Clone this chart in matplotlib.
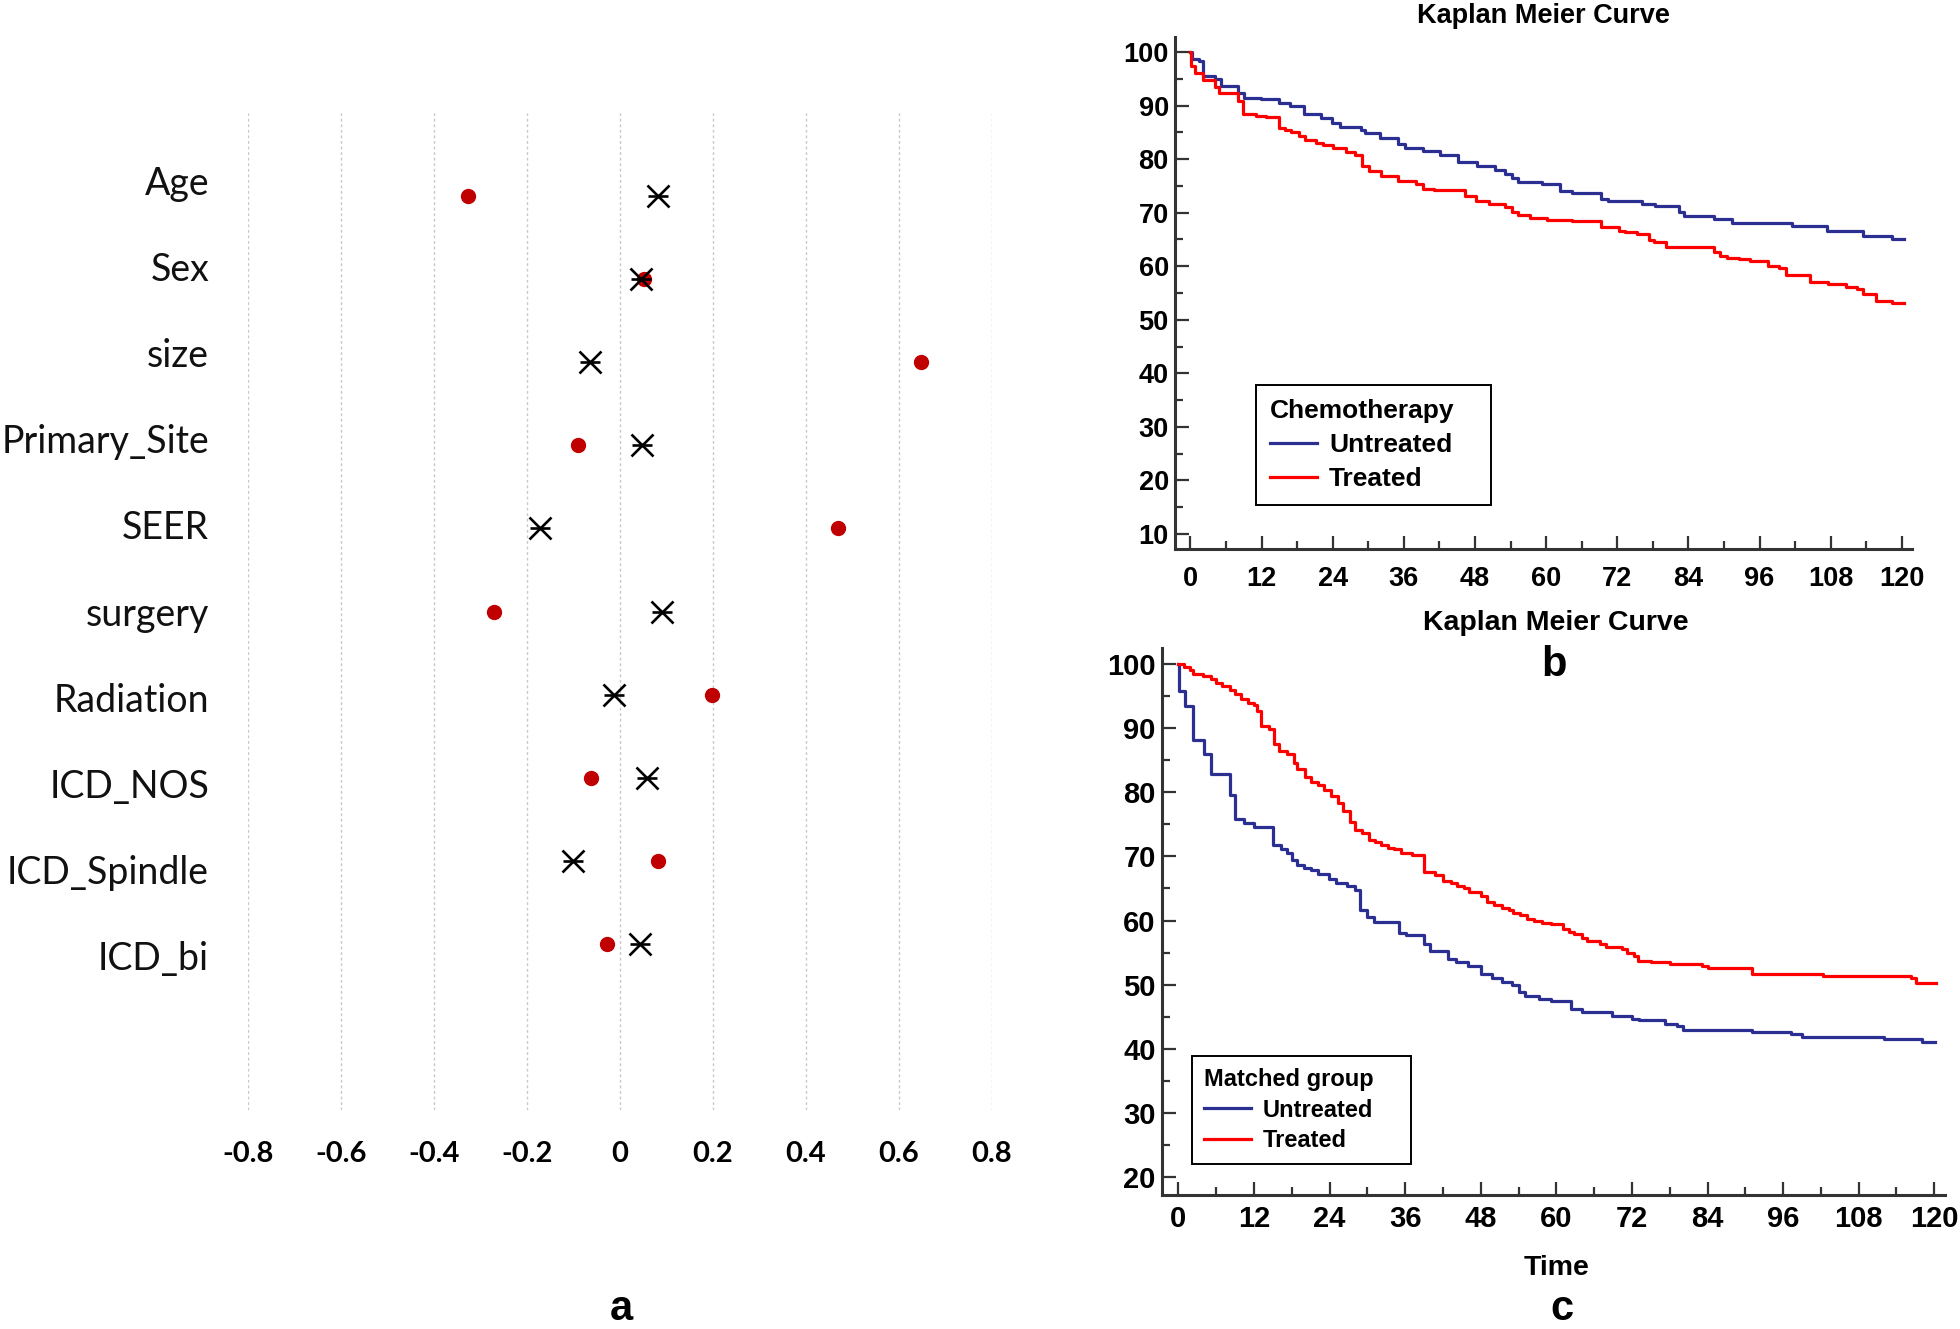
import matplotlib.pyplot as plt
import numpy as np
from matplotlib.ticker import MultipleLocator

# panel a: standardized differences before (red dots) and after (crosses) matching
variables = ["Age", "Sex", "size", "Primary_Site", "SEER", "surgery",
             "Radiation", "ICD_NOS", "ICD_Spindle", "ICD_bi"]
before_match = [-0.327, 0.052, 0.648, -0.090, 0.469, -0.271, 0.197, -0.063, 0.081, -0.029]
after_match = [0.081, 0.045, -0.064, 0.048, -0.173, 0.091, -0.013, 0.059, -0.101, 0.042]
diff_ticks = [-0.8, -0.6, -0.4, -0.2, 0, 0.2, 0.4, 0.6, 0.8]
diff_tick_labels = ["-0.8", "-0.6", "-0.4", "-0.2", "0", "0.2", "0.4", "0.6", "0.8"]

# panel b: Kaplan Meier, chemotherapy (all patients)
chemo_untreated_t = [0, 0.2, 1.4, 2.2, 4.1, 5.2, 8.1, 9.0, 11.9, 14.9, 16.8, 19.1, 22.1, 23.8, 25.2,
                     28.8, 29.4, 31.9, 35.0, 36.2, 39.3, 42.1, 45.2, 48.3, 51.4, 53.1, 54.2, 55.3,
                     59.3, 62.4, 64.3, 69.2, 70.4, 76.2, 78.4, 82.4, 83.3, 88.3, 91.3, 101.4, 107.4,
                     113.4, 118.4, 120.4]
chemo_untreated_s = [100, 98.6, 98.3, 95.5, 94.9, 93.6, 92.4, 91.5, 91.3, 90.5, 89.9, 88.4, 87.6,
                     86.8, 86.0, 85.4, 84.8, 84.0, 82.9, 82.0, 81.5, 80.7, 79.5, 78.8, 78.0, 77.3,
                     76.5, 75.7, 75.3, 74.0, 73.6, 72.6, 72.1, 71.7, 71.2, 70.2, 69.4, 68.8, 68.1,
                     67.6, 66.6, 65.7, 65.1, 65.1]
chemo_treated_t = [0, 0.1, 0.8, 2.1, 4.1, 4.9, 8.0, 8.8, 11.1, 12.7, 14.9, 15.9, 17.0, 18.3, 19.4,
                   21.2, 22.4, 24.1, 26.3, 27.7, 29.0, 30.1, 32.1, 35.0, 38.1, 39.3, 41.0, 46.3,
                   48.2, 50.3, 53.1, 54.2, 55.3, 57.3, 60.1, 64.3, 69.2, 72.2, 73.3, 75.3, 77.3,
                   78.2, 80.2, 88.3, 89.4, 90.5, 92.5, 94.4, 97.4, 99.3, 100.5, 104.5, 107.5,
                   110.5, 112.5, 113.4, 115.6, 118.4, 120.4]
chemo_treated_s = [100, 97.4, 96.1, 94.8, 93.4, 92.4, 90.9, 88.5, 88.0, 87.8, 85.9, 85.5, 85.0,
                   84.3, 83.5, 83.1, 82.6, 82.1, 81.3, 80.7, 78.7, 77.7, 76.9, 75.9, 75.3, 74.5,
                   74.2, 73.2, 72.2, 71.7, 71.0, 70.1, 69.5, 69.0, 68.7, 68.5, 67.4, 66.6, 66.3,
                   66.0, 64.9, 64.6, 63.6, 62.6, 62.0, 61.6, 61.3, 60.9, 60.1, 59.6, 58.3, 57.1,
                   56.6, 56.2, 55.7, 54.8, 53.5, 53.2, 53.2]

# panel c: Kaplan Meier, matched group
matched_untreated_t = [0, 0.1, 1.1, 2.3, 4.1, 5.1, 8.2, 9.0, 10.4, 12.0, 15.1, 16.3, 17.3, 18.1,
                       18.9, 20.0, 21.1, 22.1, 23.9, 25.0, 26.8, 28.0, 28.9, 30.0, 31.0, 35.0,
                       36.2, 39.0, 40.0, 42.8, 44.0, 46.0, 48.1, 49.8, 51.4, 53.0, 54.0, 55.1,
                       57.2, 59.1, 62.3, 64.0, 68.9, 72.0, 73.1, 77.2, 79.2, 80.1, 91.1, 97.2,
                       99.0, 112.0, 118.0, 120.1]
matched_untreated_s = [100, 95.8, 93.5, 88.1, 85.9, 82.9, 79.6, 75.8, 75.2, 74.6, 71.8, 71.1,
                       70.5, 69.4, 68.7, 68.2, 67.9, 67.3, 66.4, 65.8, 65.4, 64.8, 61.6, 60.5,
                       59.8, 58.1, 57.7, 56.3, 55.2, 54.0, 53.6, 52.9, 51.6, 51.0, 50.4, 49.9,
                       48.9, 48.3, 47.7, 47.5, 46.2, 45.8, 45.1, 44.7, 44.5, 43.8, 43.5, 42.9,
                       42.6, 42.3, 41.8, 41.5, 41.1, 41.1]
matched_treated_t = [0, 0.95, 1.9, 2.4, 3.9, 5.1, 6.0, 6.9, 8.2, 9.0, 9.9, 11.0, 12.0, 12.5, 13.1,
                     14.4, 15.2, 16.0, 17.3, 18.3, 18.9, 20.1, 21.1, 22.1, 23.1, 24.2, 25.3, 26.2,
                     27.3, 28.1, 29.2, 30.3, 31.2, 32.1, 33.2, 34.2, 35.3, 37.1, 39.0, 40.8, 42.0,
                     43.2, 44.3, 45.3, 46.1, 48.0, 49.0, 50.1, 51.4, 52.5, 53.2, 54.3, 55.4, 56.4,
                     57.7, 59.1, 61.0, 62.0, 62.8, 64.0, 64.9, 67.0, 67.9, 70.5, 71.2, 72.3, 73.0,
                     75.0, 78.1, 83.2, 84.0, 91.1, 102.3, 116.3, 117.1, 120.2]
matched_treated_s = [100, 99.6, 99.1, 98.5, 98.1, 97.7, 97.0, 96.5, 95.9, 95.3, 94.6, 94.0, 93.6,
                     92.7, 90.3, 89.8, 87.6, 86.4, 85.9, 84.6, 83.6, 82.4, 81.6, 81.2, 80.3, 79.4,
                     78.3, 77.1, 75.4, 74.1, 73.6, 72.6, 72.3, 71.8, 71.3, 71.1, 70.6, 70.2, 67.6,
                     67.1, 66.2, 65.8, 65.4, 65.0, 64.5, 63.8, 62.9, 62.4, 62.0, 61.6, 61.2, 60.8,
                     60.3, 59.9, 59.6, 59.4, 58.7, 58.2, 57.9, 57.2, 56.8, 56.3, 55.8, 55.5, 54.9,
                     54.4, 53.7, 53.5, 53.2, 52.9, 52.6, 51.7, 51.3, 51.0, 50.3, 50.3]

BLUE = "#2b2f91"
RED = "#ff0000"

plt.rcParams["font.family"] = ["Liberation Sans", "DejaVu Sans"]

W, H = 1960, 1329
fig = plt.figure(figsize=(W / 100, H / 100), dpi=100)


def px_axes(left, top, right, bottom):
    return fig.add_axes([left / W, 1 - bottom / H, (right - left) / W, (bottom - top) / H])


# ---- panel a ----
ax = px_axes(248, 113, 992, 1110)
ypos = np.arange(len(variables))
ax.plot(before_match, ypos, "o", color="#c00000", markersize=10, zorder=3, clip_on=False)
ax.plot(after_match, ypos, "x", color="black", markersize=16.5, markeredgewidth=1.9, zorder=4)
ax.plot(after_match, ypos, "_", color="black", markersize=14, markeredgewidth=1.9, zorder=4)
ax.set_xlim(-0.8, 0.8)
ax.set_ylim(11, -1)
ax.set_xticks(diff_ticks)
ax.set_xticklabels(diff_tick_labels, fontfamily=["Lato", "DejaVu Sans"], fontweight="bold", fontsize=21)
# the category labels sit on a slightly wider spacing than the markers
ax.set_yticks(ypos * 1.037 - 0.19)
ax.set_yticklabels(variables, fontfamily=["Lato", "DejaVu Sans"], fontsize=27, color="#111111")
ax.tick_params(axis="both", length=0)
ax.tick_params(axis="x", pad=22)
ax.tick_params(axis="y", pad=28)
ax.grid(axis="x", color="#c8c8c8", linestyle=(0, (2, 2)), linewidth=1)
for s in ax.spines.values():
    s.set_visible(False)
fig.text(621 / W, 1 - 1320 / H, "a", ha="center", va="baseline", fontsize=30, fontweight="bold")


def km_panel(ax, tu, su, tt, st, ymin, ylim, legend_title, legend_box, fs_tick, fs_leg, xpad,
             spacing, hlen):
    ax.step(tu, su, where="post", color=BLUE, linewidth=2.3, label="Untreated")
    ax.step(tt, st, where="post", color=RED, linewidth=2.3, label="Treated")
    ax.set_xlim(-2.6, 121.7)
    ax.set_ylim(*ylim)
    ax.xaxis.set_major_locator(MultipleLocator(12))
    ax.xaxis.set_minor_locator(MultipleLocator(6))
    ax.yaxis.set_minor_locator(MultipleLocator(5))
    ax.set_yticks(np.arange(ymin, 101, 10))
    for side in ["top", "right"]:
        ax.spines[side].set_visible(False)
    for side in ["left", "bottom"]:
        ax.spines[side].set_linewidth(2.2)
        ax.spines[side].set_color("#333333")
    ax.tick_params(which="both", direction="in", width=1.6, color="#333333")
    ax.tick_params(axis="x", which="major", length=9.5, pad=xpad)
    ax.tick_params(axis="x", which="minor", length=5.5)
    ax.tick_params(axis="y", which="major", length=10, pad=4.5)
    ax.tick_params(axis="y", which="minor", length=5.5)
    for lab in ax.get_xticklabels() + ax.get_yticklabels():
        lab.set_fontweight("bold")
        lab.set_fontsize(fs_tick)
    leg = ax.legend(title=legend_title, loc="upper left", bbox_to_anchor=legend_box,
                    mode="expand", borderaxespad=0, alignment="left", frameon=True,
                    fancybox=False, edgecolor="black", framealpha=1, handlelength=hlen,
                    handletextpad=0.47, labelspacing=spacing, borderpad=0.52,
                    prop={"weight": "bold", "size": fs_leg},
                    title_fontproperties={"weight": "bold", "size": fs_leg})
    leg.get_frame().set_linewidth(1.4)
    return leg


# ---- panel b ----
axb = px_axes(1175, 37, 1912, 549)
km_panel(axb, chemo_untreated_t, chemo_untreated_s, chemo_treated_t, chemo_treated_s,
         10, (7.2, 102.8), "Chemotherapy", (0.110, 0.0, 0.319, 0.320), 19.5, 19, 12, 0.38, 1.78)
axb.set_title("Kaplan Meier Curve", fontsize=19.5, fontweight="bold", pad=10)

# ---- panel c ----
axc = px_axes(1162, 648, 1945, 1195)
km_panel(axc, matched_untreated_t, matched_untreated_s, matched_treated_t, matched_treated_s,
         20, (17.2, 102.5), "Matched group", (0.038, 0.0, 0.280, 0.254), 21, 17, 7, 0.31, 2.0)
fig.text(1556 / W, 1 - 623 / H, "Kaplan Meier Curve", ha="center", va="center",
         fontsize=20.5, fontweight="bold")
fig.text(1554 / W, 1 - 676 / H, "b", ha="center", va="baseline", fontsize=30, fontweight="bold")
fig.text(1557 / W, 1 - 1268 / H, "Time", ha="center", va="center", fontsize=20.5, fontweight="bold")
fig.text(1562 / W, 1 - 1320 / H, "c", ha="center", va="baseline", fontsize=30, fontweight="bold")

fig.savefig("out.png", dpi=100)
